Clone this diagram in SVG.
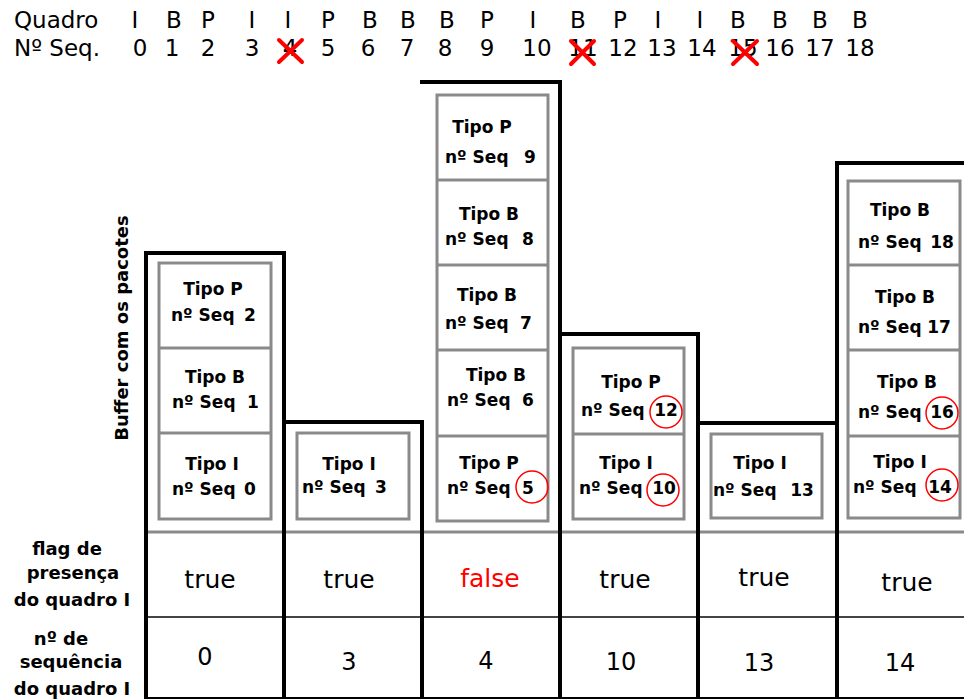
<svg xmlns="http://www.w3.org/2000/svg" width="964" height="699" viewBox="0 0 964 699">
<style>
text{font-family:"DejaVu Sans","Liberation Sans",sans-serif;fill:#000}
.h{font-size:23px;text-anchor:middle}
.hl{font-size:23px}
.p{font-size:17px;font-weight:bold}
.pc{font-size:17px;font-weight:bold;text-anchor:middle}
.num{text-anchor:middle}
.lab{font-size:18px;font-weight:bold;text-anchor:middle}
.v{font-size:25px;text-anchor:middle}
.n{font-size:24px;text-anchor:middle}
.box{fill:none;stroke:#8a8a8a;stroke-width:3}
.div{stroke:#8a8a8a;stroke-width:3}
.thick{fill:none;stroke:#000;stroke-width:4;stroke-linecap:square}
.circ{fill:none;stroke:#ff0000;stroke-width:1.5}
.x{stroke:#ff0000;stroke-width:4;stroke-linecap:round}
</style>
<rect width="964" height="699" fill="#fff"/>
<g id="header">
<text class="hl" x="14" y="28">Quadro</text>
<text class="hl" x="14" y="56">Nº Seq.</text>
<text class="h" x="135" y="28">I</text><text class="h" x="174" y="28">B</text><text class="h" x="208" y="28">P</text><text class="h" x="252" y="28">I</text><text class="h" x="288" y="28">I</text><text class="h" x="328" y="28">P</text><text class="h" x="370" y="28">B</text><text class="h" x="408" y="28">B</text><text class="h" x="447" y="28">B</text><text class="h" x="487" y="28">P</text><text class="h" x="533" y="28">I</text><text class="h" x="578" y="28">B</text><text class="h" x="620" y="28">P</text><text class="h" x="658" y="28">I</text><text class="h" x="700" y="28">I</text><text class="h" x="738" y="28">B</text><text class="h" x="780" y="28">B</text><text class="h" x="820" y="28">B</text><text class="h" x="860" y="28">B</text>
<text class="h" x="140" y="56">0</text><text class="h" x="172" y="56">1</text><text class="h" x="208" y="56">2</text><text class="h" x="252" y="56">3</text><text class="h" x="290" y="56">4</text><text class="h" x="328" y="56">5</text><text class="h" x="368" y="56">6</text><text class="h" x="407" y="56">7</text><text class="h" x="445" y="56">8</text><text class="h" x="487" y="56">9</text><text class="h" x="537" y="56">10</text><text class="h" x="583" y="56">11</text><text class="h" x="623" y="56">12</text><text class="h" x="662" y="56">13</text><text class="h" x="702" y="56">14</text><text class="h" x="743" y="56">15</text><text class="h" x="780" y="56">16</text><text class="h" x="820" y="56">17</text><text class="h" x="860" y="56">18</text>
<path class="x" d="M279,40 L302,62 M302,40 L279,62"/>
<path class="x" d="M571,41 L594,64 M594,41 L571,64"/>
<path class="x" d="M733,41 L757,64 M757,41 L733,64"/>
</g>
<g id="labels">
<text class="lab" transform="translate(128,328) rotate(-90)">Buffer com os pacotes</text>
<text class="lab" x="67" y="555">flag de</text>
<text class="lab" x="73" y="579">presença</text>
<text class="lab" x="72" y="606">do quadro I</text>
<text class="lab" x="61" y="645">nº de</text>
<text class="lab" x="71" y="668">sequência</text>
<text class="lab" x="72" y="695">do quadro I</text>
</g>
<g id="grid">
<line x1="146" y1="532" x2="964" y2="532" stroke="#8a8a8a" stroke-width="3"/>
<line x1="146" y1="617" x2="964" y2="617" stroke="#444" stroke-width="2"/>
<line x1="146" y1="698" x2="964" y2="698" stroke="#000" stroke-width="2"/>
<path class="thick" d="M146,699 V253 H284 V699 M284,422 H422 V699 M422,82 H560 V699 M560,334 H698 V699 M698,423 H837 V699 M837,163 H964"/>
<line x1="837" y1="163" x2="837" y2="423" stroke="#000" stroke-width="4"/>
</g>
<g id="col1">
<rect class="box" x="159" y="263" width="112" height="256"/>
<line class="div" x1="159" y1="348" x2="271" y2="348"/>
<line class="div" x1="159" y1="433" x2="271" y2="433"/>
<text class="pc" x="213" y="295">Tipo P</text><text class="p" x="171" y="321">nº Seq <tspan class="num" x="250">2</tspan></text>
<text class="pc" x="215" y="383">Tipo B</text><text class="p" x="172" y="408">nº Seq <tspan class="num" x="253">1</tspan></text>
<text class="pc" x="212" y="470">Tipo I</text><text class="p" x="172" y="495">nº Seq <tspan class="num" x="250">0</tspan></text>
</g>
<g id="col2">
<rect class="box" x="297" y="433" width="112" height="86"/>
<text class="pc" x="349" y="470">Tipo I</text><text class="p" x="302" y="493">nº Seq <tspan class="num" x="381">3</tspan></text>
</g>
<g id="col3">
<rect class="box" x="437" y="95" width="111" height="426"/>
<line class="div" x1="437" y1="180" x2="548" y2="180"/>
<line class="div" x1="437" y1="265" x2="548" y2="265"/>
<line class="div" x1="437" y1="350" x2="548" y2="350"/>
<line class="div" x1="437" y1="436" x2="548" y2="436"/>
<text class="pc" x="482" y="133">Tipo P</text><text class="p" x="445" y="163">nº Seq <tspan class="num" x="530">9</tspan></text>
<text class="pc" x="489" y="220">Tipo B</text><text class="p" x="445" y="245">nº Seq <tspan class="num" x="528">8</tspan></text>
<text class="pc" x="487" y="301">Tipo B</text><text class="p" x="445" y="329">nº Seq <tspan class="num" x="526">7</tspan></text>
<text class="pc" x="496" y="381">Tipo B</text><text class="p" x="447" y="406">nº Seq <tspan class="num" x="528">6</tspan></text>
<text class="pc" x="489" y="469">Tipo P</text><text class="p" x="447" y="494">nº Seq <tspan class="num" x="528">5</tspan></text>
<circle class="circ" cx="532" cy="487" r="16"/>
</g>
<g id="col4">
<rect class="box" x="573" y="348" width="111" height="171"/>
<line class="div" x1="573" y1="434" x2="684" y2="434"/>
<text class="pc" x="631" y="388">Tipo P</text><text class="p" x="581" y="416">nº Seq <tspan class="num" x="666">12</tspan></text>
<text class="pc" x="626" y="469">Tipo I</text><text class="p" x="579" y="494">nº Seq <tspan class="num" x="664">10</tspan></text>
<circle class="circ" cx="666" cy="412" r="16"/>
<circle class="circ" cx="663" cy="490" r="16"/>
</g>
<g id="col5">
<rect class="box" x="711" y="434" width="111" height="84"/>
<text class="pc" x="760" y="469">Tipo I</text><text class="p" x="713" y="496">nº Seq <tspan class="num" x="802">13</tspan></text>
</g>
<g id="col6">
<rect class="box" x="848" y="181" width="112" height="337"/>
<line class="div" x1="848" y1="265" x2="960" y2="265"/>
<line class="div" x1="848" y1="350" x2="960" y2="350"/>
<line class="div" x1="848" y1="436" x2="960" y2="436"/>
<text class="pc" x="900" y="216">Tipo B</text><text class="p" x="858" y="248">nº Seq <tspan class="num" x="942">18</tspan></text>
<text class="pc" x="905" y="303">Tipo B</text><text class="p" x="858" y="333">nº Seq <tspan class="num" x="939">17</tspan></text>
<text class="pc" x="907" y="388">Tipo B</text><text class="p" x="858" y="418">nº Seq <tspan class="num" x="942">16</tspan></text>
<text class="pc" x="900" y="468">Tipo I</text><text class="p" x="853" y="493">nº Seq <tspan class="num" x="940">14</tspan></text>
<circle class="circ" cx="942" cy="413" r="16"/>
<circle class="circ" cx="942" cy="485" r="16"/>
</g>
<g id="table">
<text class="v" x="210" y="588">true</text>
<text class="v" x="349" y="588">true</text>
<text class="v" x="490" y="587" style="fill:#ff0000">false</text>
<text class="v" x="625" y="588">true</text>
<text class="v" x="764" y="586">true</text>
<text class="v" x="907" y="591">true</text>
<text class="n" x="205" y="665">0</text>
<text class="n" x="349" y="670">3</text>
<text class="n" x="486" y="669">4</text>
<text class="n" x="621" y="670">10</text>
<text class="n" x="759" y="671">13</text>
<text class="n" x="900" y="671">14</text>
</g>
</svg>
